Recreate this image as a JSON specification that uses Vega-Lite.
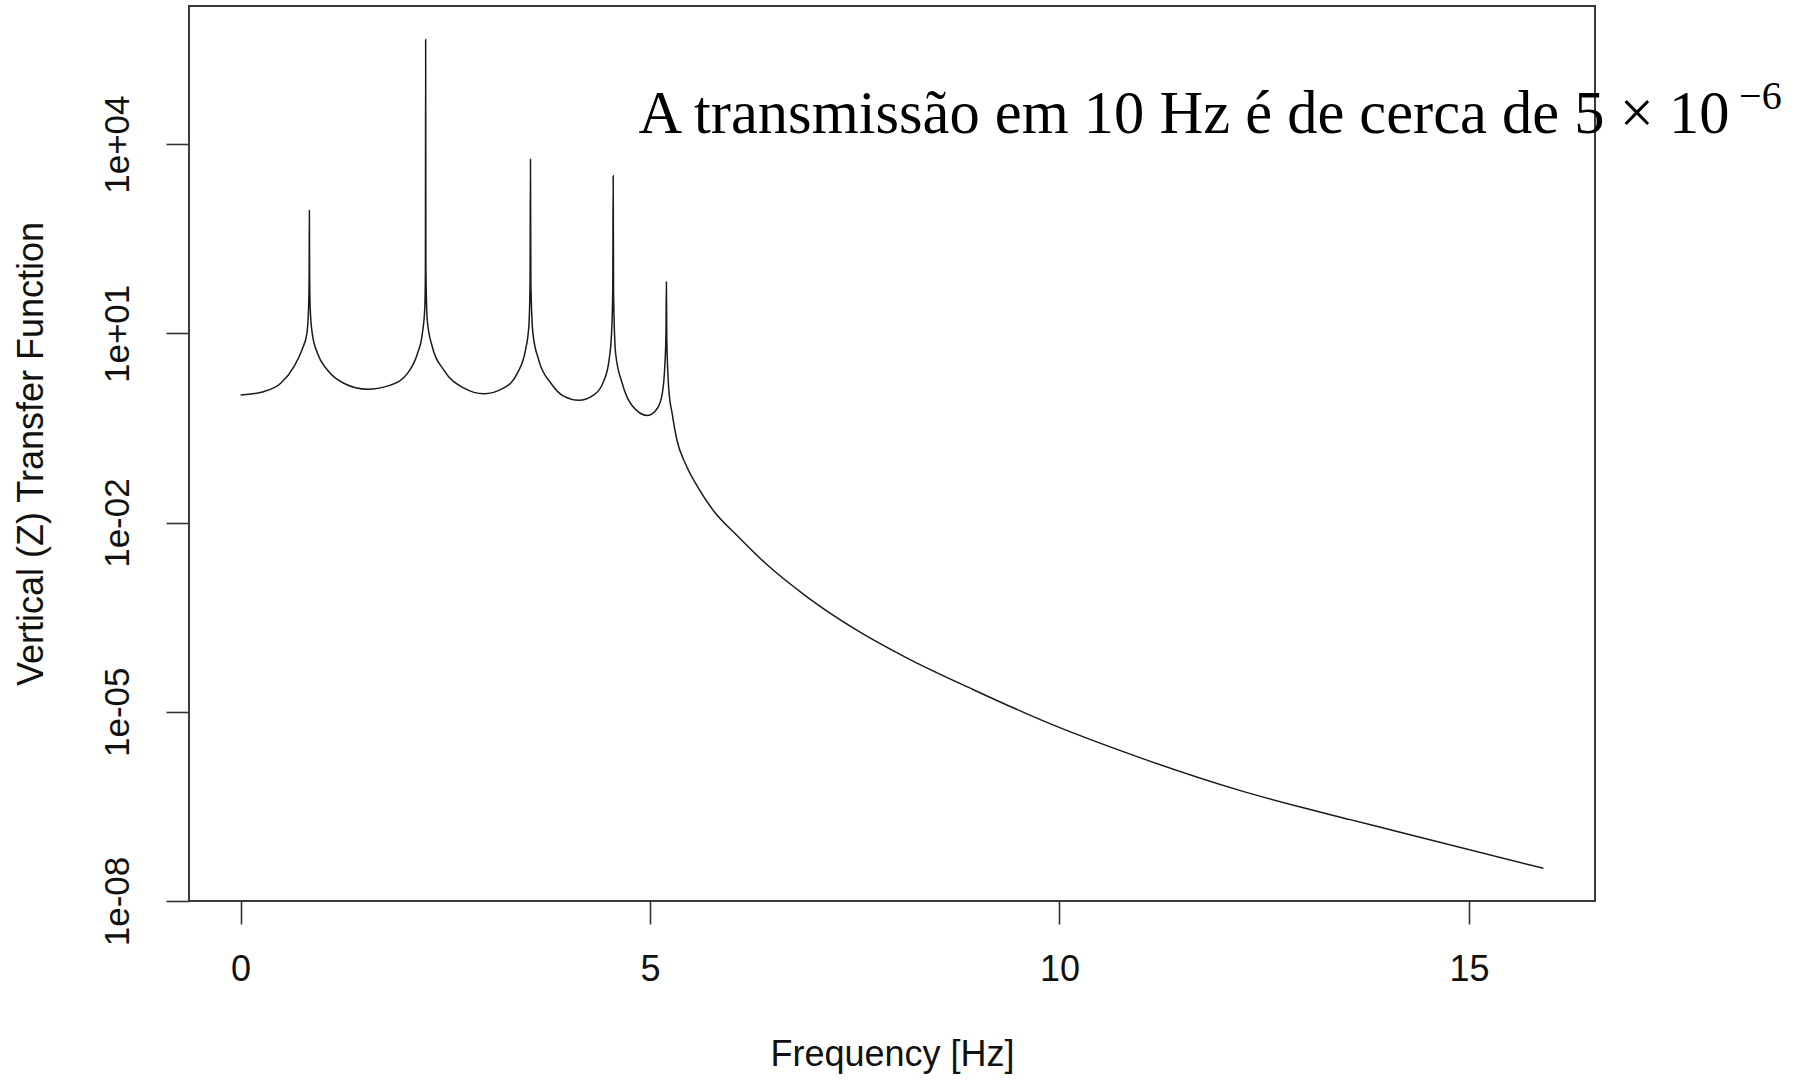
{
  "$schema": "https://vega.github.io/schema/vega-lite/v6.json",
  "autosize": {"type": "none"},
  "width": 1406,
  "height": 895,
  "padding": {"left": 189, "top": 6, "right": 200, "bottom": 180},
  "background": "white",
  "config": {
    "view": {"stroke": "#3a3a3a", "strokeWidth": 2},
    "axis": {"grid": false, "domain": false, "tickColor": "#333333", "tickWidth": 1.6, "tickSize": 23, "labelColor": "#111111", "titleColor": "#111111", "labelFont": "Liberation Sans", "titleFont": "Liberation Sans", "titleFontWeight": "normal"}
  },
  "layer": [
    {
      "data": {"values": [
        {"f": 0.00, "v": 1.05}, {"f": 0.28, "v": 1.19}, {"f": 0.49, "v": 1.62}, {"f": 0.65, "v": 2.95},
        {"f": 0.75, "v": 5.5}, {"f": 0.81, "v": 10}, {"f": 0.83, "v": 25}, {"f": 0.837, "v": 79},
        {"f": 0.840, "v": 890}, {"f": 0.843, "v": 79}, {"f": 0.85, "v": 25}, {"f": 0.875, "v": 10},
        {"f": 0.94, "v": 4.8}, {"f": 1.06, "v": 2.63}, {"f": 1.26, "v": 1.62}, {"f": 1.55, "v": 1.30},
        {"f": 1.83, "v": 1.51}, {"f": 2.04, "v": 2.34}, {"f": 2.16, "v": 4.8}, {"f": 2.22, "v": 10},
        {"f": 2.25, "v": 26}, {"f": 2.257, "v": 100}, {"f": 2.260, "v": 457000}, {"f": 2.263, "v": 100},
        {"f": 2.28, "v": 16}, {"f": 2.34, "v": 6.2}, {"f": 2.48, "v": 2.63}, {"f": 2.73, "v": 1.35},
        {"f": 2.97, "v": 1.10}, {"f": 3.21, "v": 1.35}, {"f": 3.38, "v": 2.34}, {"f": 3.48, "v": 5.5},
        {"f": 3.52, "v": 12.9}, {"f": 3.535, "v": 63}, {"f": 3.540, "v": 5750}, {"f": 3.545, "v": 63},
        {"f": 3.57, "v": 10}, {"f": 3.64, "v": 3.8}, {"f": 3.79, "v": 1.62}, {"f": 3.95, "v": 1.0},
        {"f": 4.13, "v": 0.87}, {"f": 4.31, "v": 1.05}, {"f": 4.44, "v": 1.82}, {"f": 4.50, "v": 3.8},
        {"f": 4.53, "v": 10}, {"f": 4.545, "v": 50}, {"f": 4.550, "v": 3160}, {"f": 4.555, "v": 40},
        {"f": 4.58, "v": 4.8}, {"f": 4.66, "v": 1.62}, {"f": 4.78, "v": 0.72}, {"f": 4.97, "v": 0.50},
        {"f": 5.09, "v": 0.65}, {"f": 5.15, "v": 1.12}, {"f": 5.18, "v": 2.95}, {"f": 5.195, "v": 10},
        {"f": 5.200, "v": 65}, {"f": 5.205, "v": 7.9}, {"f": 5.23, "v": 1.26}, {"f": 5.27, "v": 0.54},
        {"f": 5.33, "v": 0.20}, {"f": 5.43, "v": 0.087}, {"f": 5.58, "v": 0.037}, {"f": 5.78, "v": 0.0151},
        {"f": 6.06, "v": 0.0063}, {"f": 6.43, "v": 0.00214}, {"f": 6.92, "v": 0.00066}, {"f": 7.53, "v": 0.000195},
        {"f": 8.14, "v": 0.000071}, {"f": 8.95, "v": 0.0000224}, {"f": 9.81, "v": 0.0000071}, {"f": 10.99, "v": 0.00000186},
        {"f": 12.21, "v": 0.000000562}, {"f": 12.94, "v": 0.000000309}, {"f": 13.55, "v": 0.000000195}, {"f": 14.16, "v": 0.000000123},
        {"f": 15.91, "v": 0.000000033}
      ]},
      "mark": {"type": "line", "color": "#1a1a1a", "strokeWidth": 1.5, "interpolate": "monotone"},
      "encoding": {
        "x": {"field": "f", "type": "quantitative", "scale": {"domain": [-0.63, 16.54], "nice": false, "zero": false},
          "axis": {"values": [0, 5, 10, 15], "format": "d", "title": "Frequency [Hz]", "labelFontSize": 36, "titleFontSize": 36, "labelPadding": 28, "titlePadding": 50, "labelAngle": 0}},
        "y": {"field": "v", "type": "quantitative", "scale": {"type": "log", "domain": [1e-8, 1.55e6], "nice": false},
          "axis": {"values": [1e-8, 1e-5, 1e-2, 10, 10000], "labelExpr": "'1e' + (datum.value >= 1 ? '+' : '-') + (abs(round(log(datum.value)/LN10)) < 10 ? '0' : '') + abs(round(log(datum.value)/LN10))",
            "labelAngle": -90, "labelAlign": "center", "labelBaseline": "alphabetic", "labelPadding": 38, "labelFontSize": 35,
            "labelOverlap": false,
            "title": "Vertical (Z) Transfer Function", "titleFontSize": 36, "titlePadding": 50}}
      }
    },
    {
      "data": {"values": [{"f": 4.86, "v": 15000, "label": "A transmissão em 10 Hz é de cerca de 5 × 10"}]},
      "mark": {"type": "text", "align": "left", "baseline": "alphabetic", "font": "Liberation Serif", "fontSize": 60.5, "color": "#000000"},
      "encoding": {"x": {"field": "f", "type": "quantitative"}, "y": {"field": "v", "type": "quantitative"}, "text": {"field": "label"}}
    },
    {
      "data": {"values": [{"f": 18.3, "v": 36000, "label": "−6"}]},
      "mark": {"type": "text", "align": "left", "baseline": "alphabetic", "font": "Liberation Serif", "fontSize": 40, "color": "#000000"},
      "encoding": {"x": {"field": "f", "type": "quantitative"}, "y": {"field": "v", "type": "quantitative"}, "text": {"field": "label"}}
    }
  ]
}
